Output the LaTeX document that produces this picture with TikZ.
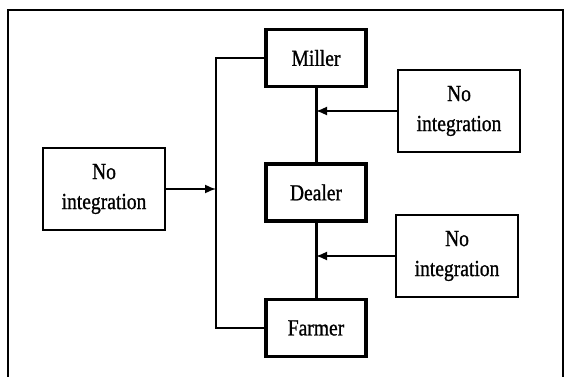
\documentclass[tikz,border=0pt]{standalone}
\usepackage{fontspec}
\setmainfont{Liberation Serif}[FakeStretch=0.85, FakeBold=1]
\usetikzlibrary{arrows.meta,positioning}

\begin{document}
\begin{tikzpicture}[
  x=1pt, y=-1pt,
  node distance=74pt,
  font=\fontsize{23}{30}\selectfont,
  actor/.style={draw, line width=3.5pt, minimum width=100pt, minimum height=57pt, align=center},
  nobox/.style={draw, line width=1.4pt, minimum width=122pt, minimum height=82pt, align=center},
  link/.style={line width=3pt},
  arr/.style={-{Latex[length=11pt,width=9pt]}, line width=1.6pt}
]
\useasboundingbox (0,0) rectangle (567,377);
% frame, open at the bottom
\draw[line width=1.2pt] (8,377) -- (8,10) -- (563,10) -- (563,377);

\node[actor] (miller) at (316,58) {Miller};
\node[actor, below=of miller] (dealer) {Dealer};
\node[actor, below=75pt of dealer] (farmer) {Farmer};

\node[nobox] (noA) at (459,111) {No\\integration};
\node[nobox] (noB) at (457,256) {No\\integration};
\node[nobox] (noL) at (104,189) {No\\integration};

\coordinate (bx) at (216,0);

\draw[link] (miller) -- (dealer);
\draw[link] (dealer) -- (farmer);
\draw[line width=1.2pt] (miller.west) -- (miller.west -| bx) -- (farmer.west -| bx) -- (farmer.west);

\draw[arr] (noA.west) -- (noA.west -| miller.south);
\draw[arr] (noB.west) -- (noB.west -| dealer.south);
\draw[arr] (noL.east) -- (noL.east -| bx);
\end{tikzpicture}
\end{document}
